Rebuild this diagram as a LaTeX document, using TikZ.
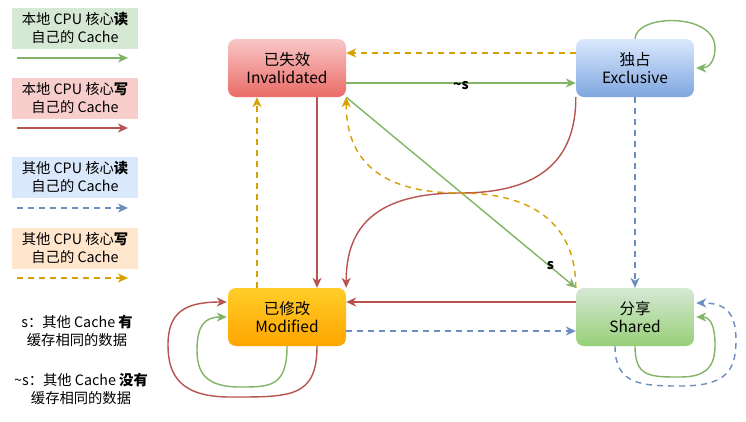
\documentclass[tikz,border=0pt]{standalone}
\usepackage{fontspec}
\setmainfont{Noto Sans CJK SC}
\usetikzlibrary{arrows.meta,calc}
\definecolor{cg}{HTML}{82B366}
\definecolor{cr}{HTML}{B85450}
\definecolor{cb}{HTML}{6C8EBF}
\definecolor{cy}{HTML}{D6A000}
\definecolor{lg}{HTML}{D5E8D4}
\definecolor{lr}{HTML}{F8CECC}
\definecolor{lb}{HTML}{DAE8FC}
\definecolor{lo}{HTML}{FFE6CC}
\tikzset{
  state/.style={rounded corners=8pt, minimum width=118pt, minimum height=58pt,
    align=center, inner sep=0pt, font=\fontsize{15.5}{18.5}\selectfont, text=black},
  legbox/.style={minimum width=126pt, minimum height=41pt, inner sep=0pt,
    align=center, font=\fontsize{14.3}{18}\selectfont},
  note/.style={align=center, font=\fontsize{14.3}{18.5}\selectfont},
  elabel/.style={font=\fontsize{14}{15}\selectfont\bfseries, inner sep=1pt},
  tip/.style={-{Stealth[length=10pt,width=9pt,inset=3pt]}},
  lg/.style={tip, draw=cg, line width=1.4pt},
  lr/.style={tip, draw=cr, line width=1.4pt},
  lb/.style={tip, draw=cb, line width=1.4pt, dash pattern=on 6pt off 5pt},
  ly/.style={tip, draw=cy, line width=1.4pt, dash pattern=on 6pt off 5pt},
}
\begin{document}
\begin{tikzpicture}[x=1pt,y=-1pt]
\useasboundingbox[fill=white] (0,0) rectangle (746,421);

% states
\node[state, top color={rgb,255:red,248;green,199;blue,199}, bottom color={rgb,255:red,234;green,107;blue,102}] (inv) at (287,68) {已失效\\Invalidated};
\node[state, top color=lb, bottom color={rgb,255:red,126;green,166;blue,224}] (exc) at (635,68) {独占\\Exclusive};
\node[state, top color={rgb,255:red,255;green,205;blue,40}, bottom color={rgb,255:red,255;green,165;blue,0}] (mod) at (287,317) {已修改\\Modified};
\node[state, top color=lg, bottom color={rgb,255:red,151;green,208;blue,119}] (sha) at (635,317) {分享\\Shared};

% legend
\node[legbox, fill=lg] (l1) at (75,28) {本地 CPU 核心\textbf{读}\\自己的 Cache};
\node[legbox, fill=lr] (l2) at (75,98) {本地 CPU 核心\textbf{写}\\自己的 Cache};
\node[legbox, fill=lb] (l3) at (75,177) {其他 CPU 核心\textbf{读}\\自己的 Cache};
\node[legbox, fill=lo] (l4) at (75,248) {其他 CPU 核心\textbf{写}\\自己的 Cache};
\coordinate (a1s) at (17,58);  \coordinate (a1e) at (128,58);
\coordinate (a2s) at (17,128); \coordinate (a2e) at (128,128);
\coordinate (a3s) at (17,208); \coordinate (a3e) at (128,208);
\coordinate (a4s) at (17,278); \coordinate (a4e) at (128,278);
\draw[lg] (a1s) -- (a1e);
\draw[lr] (a2s) -- (a2e);
\draw[lb] (a3s) -- (a3e);
\draw[ly] (a4s) -- (a4e);
\node[note] (n1) at (77,331) {s：其他 Cache \textbf{有}\\缓存相同的数据};
\node[note] (n2) at (81,389) {\char`\~s：其他 Cache \textbf{没有}\\缓存相同的数据};

% straight connectors
\draw[ly] ([yshift=15pt]exc.west) -- ([yshift=15pt]inv.east);
\draw[lg] ([yshift=-15pt]inv.east) -- node[elabel, pos=0.5, yshift=-3pt] (ls1) {\char`\~s} ([yshift=-15pt]exc.west);
\draw[lb] (exc.south) -- (sha.north);
\draw[lr] ([xshift=30pt]inv.south) -- ([xshift=30pt]mod.north);
\draw[ly] ([xshift=-30pt]mod.north) -- ([xshift=-30pt]inv.south);
\draw[lr] ([yshift=15pt]sha.west) -- ([yshift=15pt]mod.east);
\draw[lb] ([yshift=-14pt]mod.east) -- ([yshift=-14pt]sha.west);
\draw[lg] (inv.south east) -- node[elabel, pos=0.885, xshift=1pt] (ls2) {s} (sha.north west);

% curved cross connectors
\coordinate (mid) at (460,193);
\draw[lr] (exc.south west) .. controls (576,160) and (540,193) .. (mid)
  .. controls (378,193) and (346,225) .. (mod.north east);
\draw[ly] (sha.north west) .. controls (576,230) and (540,193) .. (mid)
  .. controls (380,193) and (346,160) .. (inv.south east);

% self loops
\draw[lg] (exc.north) .. controls (636,14) and (715,12) .. (715,48)
  .. controls (715,62) and (708,68) .. ([xshift=2pt]exc.east);
\draw[lr] ([xshift=30pt]mod.south) .. controls (317,398) and (290,397) .. (230,397)
  .. controls (180,397) and (168,375) .. (168,345)
  .. controls (168,312) and (185,302) .. ([xshift=-1pt,yshift=15pt]mod.west);
\draw[lg] (mod.south) .. controls (287,387) and (270,387) .. (240,387)
  .. controls (205,387) and (197,372) .. (197,350)
  .. controls (197,325) and (205,317) .. ([xshift=-1pt]mod.west);
\draw[lg] (sha.south) .. controls (635,377) and (650,377) .. (680,377)
  .. controls (708,377) and (715,365) .. (715,345)
  .. controls (715,325) and (710,317) .. ([xshift=2pt]sha.east);
\draw[lb] ([xshift=-20pt]sha.south) .. controls (615,384) and (640,386) .. (680,386)
  .. controls (725,386) and (736,372) .. (736,340)
  .. controls (736,312) and (725,303) .. ([xshift=2pt,yshift=14pt]sha.east);
\end{tikzpicture}
\end{document}
